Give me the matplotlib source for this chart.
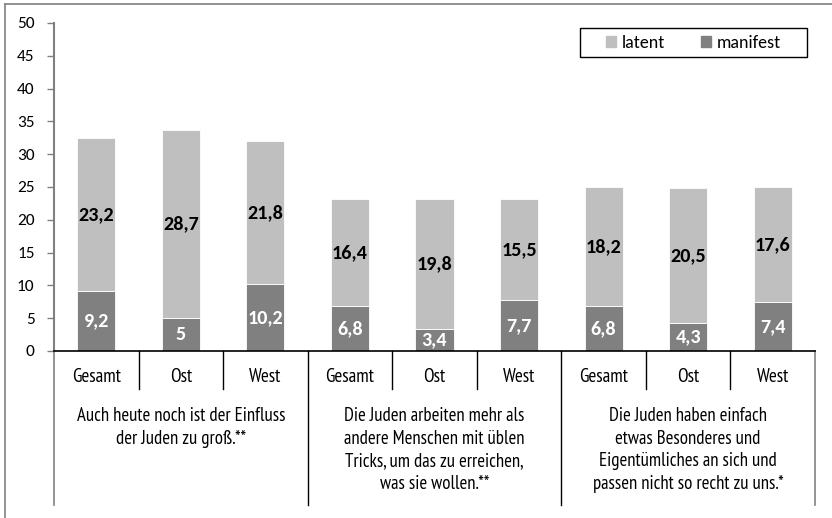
import matplotlib
matplotlib.use("Agg")
import matplotlib.pyplot as plt
from matplotlib.lines import Line2D
from matplotlib.patches import Rectangle

# data
regions = ["Gesamt", "Ost", "West"] * 3
statements = [
    "Auch heute noch ist der Einfluss\nder Juden zu groß.**",
    "Die Juden arbeiten mehr als\nandere Menschen mit üblen\nTricks, um das zu erreichen,\nwas sie wollen.**",
    "Die Juden haben einfach\netwas Besonderes und\nEigentümliches an sich und\npassen nicht so recht zu uns.*",
]
manifest = [9.2, 5, 10.2, 6.8, 3.4, 7.7, 6.8, 4.3, 7.4]
latent = [23.2, 28.7, 21.8, 16.4, 19.8, 15.5, 18.2, 20.5, 17.6]

c_latent = "#bfbfbf"
c_manifest = "#808080"
narrow = ["PT Sans Narrow", "DejaVu Sans"]
plain = ["Carlito", "DejaVu Sans"]

def fmt(v):
    return ("%g" % v).replace(".", ",")

fig = plt.figure(figsize=(8.32, 5.18), dpi=100)
ax = fig.add_axes([54/832, 1-351/518, (815-54)/832, (351-23)/518])

x = list(range(len(regions)))
ax.bar(x, manifest, width=0.45, color=c_manifest, edgecolor="white", linewidth=0.6)
ax.bar(x, latent, width=0.45, bottom=manifest, color=c_latent, edgecolor="white", linewidth=0.6)

for i in x:
    ax.text(i, manifest[i] / 2, fmt(manifest[i]), ha="center", va="center",
            color="white", fontsize=14.5, fontweight="bold", family=plain)
    ax.text(i, manifest[i] + latent[i] / 2, fmt(latent[i]), ha="center", va="center",
            color="black", fontsize=14.5, fontweight="bold", family=plain)

ax.set_xlim(-0.5, len(regions) - 0.5)
ax.set_ylim(0, 50)
ax.set_yticks(range(0, 51, 5))
ax.tick_params(axis="y", length=5, width=1, color="#808080", labelsize=12.5, pad=9)
for lab in ax.get_yticklabels():
    lab.set_family(plain)
ax.set_xticks([])
for s in ["top", "right"]:
    ax.spines[s].set_visible(False)
ax.spines["left"].set_color("#808080")
ax.spines["left"].set_linewidth(1.5)
ax.spines["bottom"].set_color("black")
ax.spines["bottom"].set_linewidth(1.2)

# two-level category axis
tr = ax.get_xaxis_transform()
h_small = (389 - 351) / 328
h_big = (505 - 351) / 328
for i in x:
    ax.text(i, -(377 - 351) / 328, regions[i], transform=tr, ha="center", va="center",
            fontsize=13.8, family=narrow)
for k in range(1, len(regions)):
    h = h_big if k % 3 == 0 else h_small
    ax.add_line(Line2D([k - 0.5, k - 0.5], [0, -h], transform=tr, color="black",
                       linewidth=1, clip_on=False))
for k in [-0.5, len(regions) - 0.5]:
    ax.add_line(Line2D([k, k], [0, -h_big], transform=tr, color="#808080",
                       linewidth=1.2, clip_on=False))
for g, txt in enumerate(statements):
    ax.text(3 * g + 1, -(407 - 351) / 328, txt, transform=tr, ha="center", va="top",
            fontsize=13.5, family=narrow, linespacing=1.33)

# legend with a separately drawn frame
box = Rectangle(((580 - 54) / 761, (351 - 57) / 328), (807 - 580) / 761, 29 / 328,
                transform=ax.transAxes, fill=False, edgecolor="black", linewidth=1.0,
                clip_on=False)
ax.add_patch(box)
handles = [Rectangle((0, 0), 1, 1, color=c_latent), Rectangle((0, 0), 1, 1, color=c_manifest)]
leg = ax.legend(handles, ["latent", "manifest"], ncol=2, loc="center",
                bbox_to_anchor=((693.5 - 54) / 761, (351 - 42.5) / 328), frameon=False,
                handlelength=0.55, handleheight=0.55, handletextpad=0.3,
                columnspacing=2.0, borderpad=0, prop={"family": plain, "size": 13})

# outer chart border (only top and left visible)
fig.add_artist(Line2D([5/832, 1], [1-4/518, 1-4/518], color="#808080", linewidth=1.2))
fig.add_artist(Line2D([5/832, 5/832], [0, 1-4/518], color="#808080", linewidth=1.2))

fig.savefig("out.png", dpi=100)
